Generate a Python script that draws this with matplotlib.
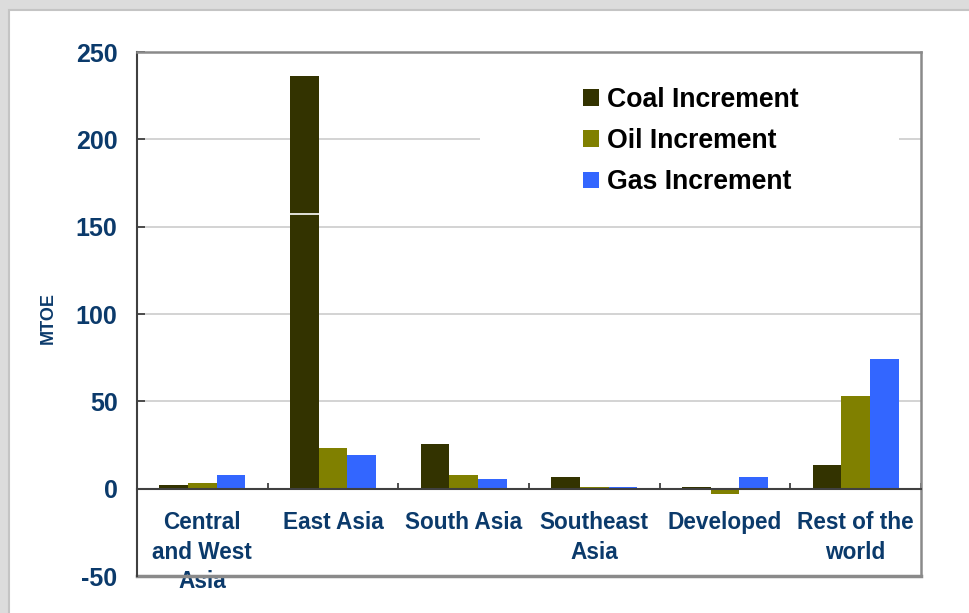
import numpy as np
import matplotlib.pyplot as plt
from matplotlib.patches import Rectangle

# dados
regions = ["Central\nand West\nAsia", "East Asia", "South Asia",
           "Southeast\nAsia", "Developed", "Rest of the\nworld"]
coal = [2.3, 236.5, 25.3, 6.9, 1.1, 13.8]
oil = [3.4, 23.0, 8.0, 1.1, -3.3, 52.8]
gas = [8.0, 19.5, 5.7, 1.1, 6.9, 74.5]
series_names = ["Coal Increment", "Oil Increment", "Gas Increment"]
coal_break = 157  # linha branca na barra de East Asia
yticks = [-50, 0, 50, 100, 150, 200, 250]

navy = "#0b3a6b"
colors = ["#333300", "#808000", "#3366ff"]

plt.rcParams['font.family'] = ['Liberation Sans', 'DejaVu Sans']
plt.rcParams['font.weight'] = 'bold'
plt.rcParams['axes.unicode_minus'] = False

fig = plt.figure(figsize=(9.7, 6.13), dpi=100)
fig.patch.set_facecolor('#dcdcdc')
# painel branco
fig.patches.append(Rectangle((9 / 970, -0.1), 1.2, 1 - 10 / 613 + 0.1,
                             transform=fig.transFigure, facecolor='white',
                             edgecolor='#c4c4c4', lw=1.5, zorder=-5))

ax = fig.add_axes([137 / 970, 1 - 576 / 613, 784 / 970, 524 / 613])
ax.set_zorder(2)
ax.set_facecolor('white')

x = np.arange(len(regions))
w = 0.22
ax.bar(x - w, coal, w, color=colors[0], label=series_names[0], zorder=3)
ax.bar(x, oil, w, color=colors[1], label=series_names[1], zorder=3)
ax.bar(x + w, gas, w, color=colors[2], label=series_names[2], zorder=3)
ax.hlines(coal_break, x[1] - 1.5 * w, x[1] - 0.5 * w, color='white', lw=1.2, zorder=4)

ax.set_xlim(-0.5, len(regions) - 0.5)
ax.set_ylim(-50, 250)
ax.set_yticks(yticks)
ax.yaxis.grid(True, color='#d0d0d0', lw=1.3, zorder=0)
ax.set_axisbelow(True)

# caixa branca da legenda cobrindo o grid
ax.add_patch(Rectangle((0.4375, 0.708), 0.535, 0.292, transform=ax.transAxes,
                       facecolor='white', edgecolor='none', zorder=1))

# eixo de categorias em zero
ax.spines['bottom'].set_position(('data', 0))
ax.spines['bottom'].set_color('#404040')
ax.spines['bottom'].set_linewidth(1.5)
ax.spines['bottom'].set_zorder(5)
ax.spines['left'].set_color('#404040')
ax.spines['left'].set_linewidth(1.5)
for s in ['top', 'right']:
    ax.spines[s].set_color('#8a8a8a')
    ax.spines[s].set_linewidth(1.8)
ax.axhline(-50, color='#8a8a8a', lw=2.5, clip_on=False, zorder=1)

ax.set_xticks(x)
ax.set_xticklabels(regions, fontsize=16.3, fontweight='bold', color=navy,
                   linespacing=1.37)
ax.tick_params(axis='x', which='major', length=0, pad=16)
ax.set_xticks(np.arange(len(regions) + 1) - 0.5, minor=True)
ax.tick_params(axis='x', which='minor', direction='in', length=4,
               width=1.3, color='#404040')
ax.tick_params(axis='y', direction='in', length=6, width=1.3,
               color='#404040', pad=14, labelsize=18, labelcolor=navy)
for t in ax.get_yticklabels():
    t.set_fontweight('bold')

fig.text(48 / 970, 1 - 318 / 613, "MTOE", rotation=90, ha='center',
         va='center', fontsize=13, fontweight='bold', color=navy)

ax.legend(loc='upper left', bbox_to_anchor=(583 / 970, 1 - 87 / 613),
          bbox_transform=fig.transFigure, frameon=False, fontsize=19.2,
          handlelength=0.6, handleheight=0.6, handletextpad=0.3,
          labelspacing=0.57, borderpad=0, borderaxespad=0)

fig.savefig("out.png", dpi=100, facecolor=fig.get_facecolor())
